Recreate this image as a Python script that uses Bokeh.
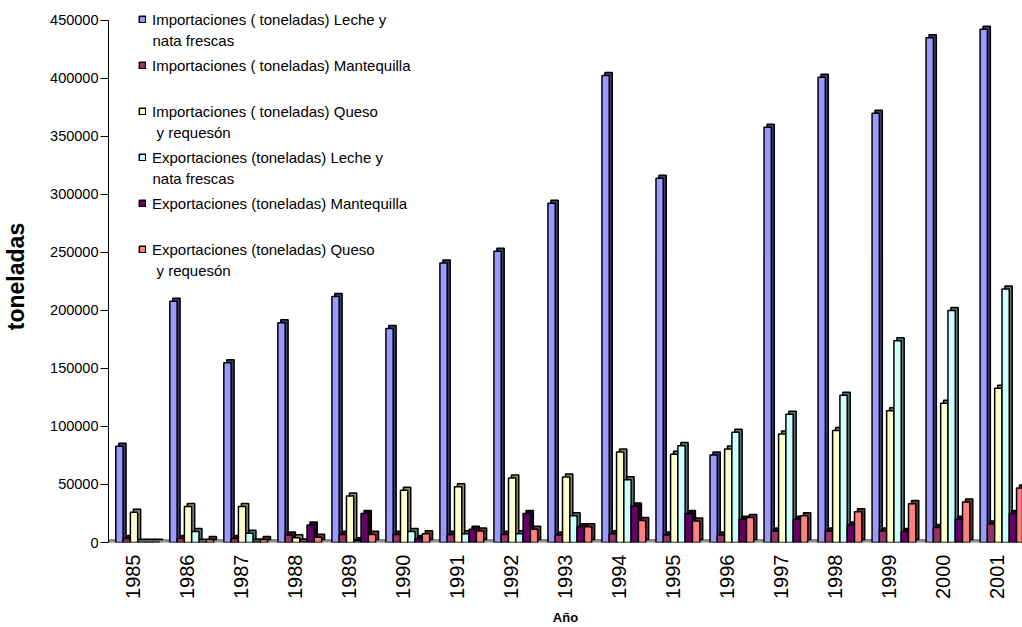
from bokeh.plotting import figure
from bokeh.models import (FixedTicker, Legend, LegendItem, BoxAnnotation, Label,
                          ColumnDataSource, Range1d, BasicTickFormatter)
from bokeh.transform import dodge
from bokeh.embed import file_html
from bokeh.resources import INLINE
import numpy as np

# ---------------- data ----------------
years = [1985, 1986, 1987, 1988, 1989, 1990, 1991, 1992, 1993,
         1994, 1995, 1996, 1997, 1998, 1999, 2000, 2001]
year_labels = [str(y) for y in years]

imp_leche = [83000, 208000, 155000, 189500, 212000, 184500, 241000, 251000, 292500,
             402500, 314000, 75500, 358000, 401000, 370000, 435000, 442500]
imp_mantequilla = [3500, 3500, 3500, 6500, 7000, 7000, 7000, 7000, 6500,
                   7500, 6500, 6500, 10000, 10000, 10000, 13000, 16000]
imp_queso = [26000, 31000, 31000, 4000, 40000, 45000, 48000, 55500, 56500,
             78000, 76000, 80500, 93500, 96500, 113500, 120000, 133000]
exp_leche = [300, 9500, 8000, 500, 1500, 9500, 7500, 7500, 23000,
             54000, 83500, 95000, 110500, 127000, 174000, 200000, 218500]
exp_mantequilla = [300, 300, 500, 15000, 25000, 3500, 11500, 25000, 13500,
                   31500, 25000, 20000, 20000, 15000, 9500, 20000, 25000]
exp_queso = [300, 2500, 2500, 4500, 7000, 7500, 10000, 11500, 13500,
             19000, 18500, 21500, 23000, 26500, 33500, 35000, 47000]

# legend texts: first line (legend entry) and optional continuation line
series_labels = [
    "Importaciones ( toneladas) Leche y",
    "Importaciones ( toneladas) Mantequilla",
    "Importaciones ( toneladas) Queso",
    "Exportaciones (toneladas) Leche y",
    "Exportaciones (toneladas) Mantequilla",
    "Exportaciones (toneladas) Queso",
]
series_label_cont = ["nata frescas", "", "y requesón", "nata frescas", "", "y requesón"]
series_values = [imp_leche, imp_mantequilla, imp_queso, exp_leche, exp_mantequilla, exp_queso]
series_colors = ["#9999FF", "#993366", "#FFFFCC", "#CCFFFF", "#660066", "#FF8080"]
side_colors = ["#3d3d66", "#3d1429", "#8a8a6e", "#5c7373", "#290029", "#663333"]

y_ticks = [0, 50000, 100000, 150000, 200000, 250000, 300000, 350000, 400000, 450000]

# ---------------- layout ----------------
FONT = "Liberation Sans"
W, H = 1022, 627
BL, BT, BB = 105, 10, 83
AXIS_TOP = 20                      # pixel row of the top tick (450000)
frame_bottom = H - BB
y_max = y_ticks[-1]
# extend the range a little above the top tick so the legend is not clipped
y_end = y_max * (frame_bottom - BT) / (frame_bottom - AXIS_TOP)

p = figure(width=W, height=H, output_backend="svg", toolbar_location=None,
           x_range=Range1d(1984.46, 2001.38), y_range=Range1d(0, y_end),
           min_border_left=BL, min_border_right=0, min_border_top=BT,
           min_border_bottom=BB)
p.outline_line_color = None
p.xgrid.visible = False
p.ygrid.visible = False
p.background_fill_color = "white"

bar_w = 0.135
dx = 0.055          # 3D depth (x, data units)
dy = 2600           # 3D depth (y, data units)
label_shift = 0.09  # category labels sit slightly left of the bar groups (3D view)

# floor
floor = BoxAnnotation(bottom=0, top=dy, fill_color="#8c8c8c", fill_alpha=1.0,
                      line_color="black", line_width=1, level="underlay")
p.add_layout(floor)

items = []
for i, (lab, vals, col, side) in enumerate(zip(series_labels, series_values,
                                                series_colors, side_colors)):
    off = (i - 2.5) * bar_w
    src = ColumnDataSource(dict(
        year=years,
        value=vals,
        top_side=[v + dy for v in vals],
        bottom_side=[dy] * len(vals),
        zero=[0] * len(vals),
    ))
    p.vbar(x=dodge("year", off + dx, range=p.x_range), top="top_side",
           bottom="bottom_side", width=bar_w, source=src,
           fill_color=side, line_color="black", line_width=1.5)
    r = p.vbar(x=dodge("year", off, range=p.x_range), top="value", bottom="zero",
               width=bar_w, source=src, fill_color=col, line_color="black",
               line_width=1.5)
    items.append(LegendItem(label=lab, renderers=[r]))

LEG_FS = 15
PITCH = 46
FIRST_LINE = 20.5
legend = Legend(items=items, location=(30, 283), orientation="vertical",
                glyph_width=8, glyph_height=8, label_standoff=6,
                label_text_font=FONT, label_text_font_size=f"{LEG_FS}px",
                label_text_color="black", label_height=20, spacing=PITCH - 20,
                padding=0, margin=0, border_line_color=None,
                background_fill_alpha=0)
p.add_layout(legend)

# continuation lines of the two-line legend entries
for i, txt in enumerate(series_label_cont):
    if not txt:
        continue
    x_off = 48 if txt.startswith("y") else 44
    line_y = FIRST_LINE + i * PITCH + 21
    p.add_layout(Label(x=x_off, y=frame_bottom - line_y,
                       x_units="screen", y_units="screen", text=txt,
                       text_font=FONT, text_font_size=f"{LEG_FS}px",
                       text_color="black", text_baseline="middle",
                       text_align="left"))

# y axis
yax = p.yaxis[0]
yax.ticker = FixedTicker(ticks=y_ticks)
yax.bounds = (0, y_max)
yax.formatter = BasicTickFormatter(use_scientific=False)
yax.minor_tick_line_color = None
yax.major_tick_in = 0
yax.major_tick_out = 8
yax.major_tick_line_color = "black"
yax.axis_line_color = "black"
yax.major_label_text_font = FONT
yax.major_label_text_font_size = "14.5px"
yax.major_label_text_color = "black"
yax.major_label_standoff = 2
yax.axis_label = "toneladas"
yax.axis_label_text_font = FONT
yax.axis_label_text_font_style = "bold"
yax.axis_label_text_font_size = "23px"
yax.axis_label_text_color = "black"
yax.axis_label_standoff = 18

# x axis
x_ticks = [round(y - label_shift, 2) for y in years]
xax = p.xaxis[0]
xax.ticker = FixedTicker(ticks=x_ticks)
xax.major_label_overrides = {t: s for t, s in zip(x_ticks, year_labels)}
xax.major_label_orientation = np.pi / 2
xax.axis_line_color = None
xax.major_tick_line_color = None
xax.major_tick_out = 0
xax.major_tick_in = 0
xax.minor_tick_line_color = None
xax.major_label_text_font = FONT
xax.major_label_text_font_size = "20px"
xax.major_label_text_color = "black"
xax.major_label_standoff = 12
xax.axis_label = "Año"
xax.axis_label_text_font = FONT
xax.axis_label_text_font_style = "bold"
xax.axis_label_text_font_size = "13px"
xax.axis_label_text_color = "black"
xax.axis_label_standoff = 8

open("out.html", "w").write(file_html(p, INLINE))
